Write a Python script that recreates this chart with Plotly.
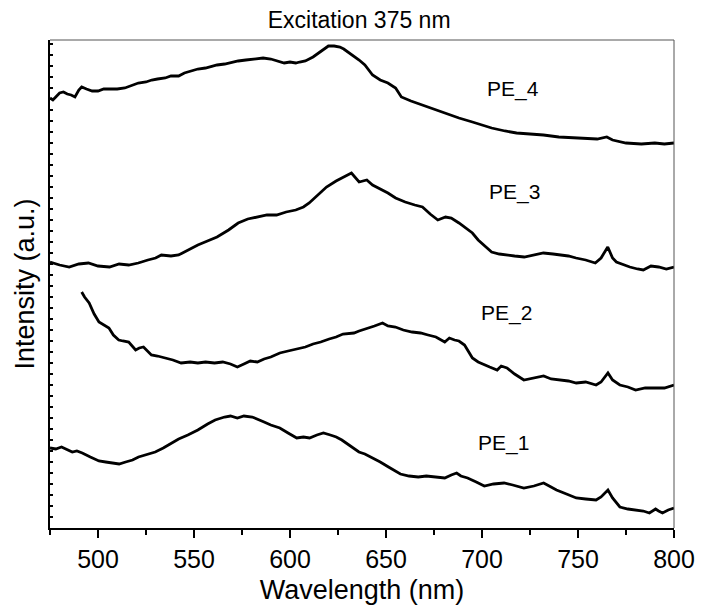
import plotly.graph_objects as go

# ---------------- data (wavelength in nm, intensity in a.u., curves offset) ----------------
pe4_nm = [475, 476.5, 478, 480, 482, 484, 486, 488, 490, 491.5, 494, 497, 500, 503, 506, 510,
          514, 518, 521, 525, 528, 531, 535, 538, 542, 545, 548, 552, 556, 560, 562, 566, 570,
          573, 577, 581, 586, 590, 593, 597, 600, 603, 605, 608, 612, 615, 618, 620, 623, 626,
          628, 631, 634, 636, 639, 643, 647, 651, 655, 658, 663, 669, 674, 681, 688, 695, 700,
          705, 712, 718, 725, 732, 740, 749, 755, 760, 765, 768, 775, 783, 790, 795, 800]
pe4_int = [430, 428, 431, 435, 436, 434, 433, 431, 438, 441, 439, 437, 437, 439, 439, 439,
           440, 443, 445, 446, 448, 449, 450, 452, 452, 455, 457, 459, 460, 462, 463, 464, 466,
           467, 468, 469, 470, 469, 467, 465, 466, 465, 466, 467, 471, 475, 479, 482, 482, 481,
           479, 475, 471, 468, 463, 453, 448, 445, 440, 431, 427, 423, 419, 415, 410, 406, 403,
           400, 397, 395, 394, 393, 391, 390, 390, 389, 391, 388, 385, 384, 385, 384, 385]

pe3_nm = [475, 480, 485, 490, 495, 500, 506, 511, 516, 521, 526, 530, 533, 538, 542, 547,
          552, 557, 562, 568, 573, 578, 583, 588, 593, 598, 603, 607, 610, 614, 619, 624, 628,
          632, 636, 640, 643, 647, 651, 655, 660, 665, 669, 673, 677, 681, 684, 688, 691, 695,
          698, 702, 705, 709, 712, 717, 722, 727, 732, 737, 741, 745, 749, 754, 759, 762,
          765.5, 768, 770, 774, 777, 781, 784, 788, 792, 796, 800]
pe3_int = [266, 263, 261, 264, 265, 262, 261, 264, 263, 265, 268, 270, 273, 272, 273, 278,
           283, 287, 291, 298, 305, 309, 311, 313, 313, 316, 318, 321, 325, 332, 341, 347, 351,
           355, 346, 348, 343, 339, 335, 330, 326, 323, 321, 314, 308, 311, 310, 305, 301, 295,
           288, 281, 276, 274, 273, 272, 271, 273, 275, 274, 273, 272, 270, 268, 265, 270,
           281, 270, 266, 263, 261, 259, 258, 262, 261, 259, 261]

pe2_nm = [491.5, 493, 495.4, 498, 500.5, 503, 505.7, 508, 510.8, 513, 516, 519.6, 521.5,
          523.7, 527.8, 531, 535, 539, 543.3, 548, 552, 556, 560.7, 565, 569, 572.6, 576,
          579.3, 583, 586.5, 590, 594.7, 599, 603.5, 608, 612, 616, 620.4, 624, 627.6, 633.3,
          636, 639.5, 644, 648.2, 651, 654.9, 659, 663.6, 668, 671.9, 676, 680.6, 683, 685.7,
          688, 690.9, 693, 695, 698, 701.2, 704, 707.9, 710, 713, 717, 721.8, 727, 732.1,
          736, 740.8, 745, 749.1, 754, 759.4, 762, 765.6, 768, 771.8, 776, 780, 785, 790.4,
          795, 800]
pe2_int = [236, 231, 225, 214, 206, 203, 200, 193, 188, 187, 186, 178, 180, 181, 173, 172,
           170, 168, 165, 166, 165, 166, 165, 166, 164, 161, 164, 167, 166, 169, 171, 175, 177,
           179, 181, 184, 186, 189, 191, 194, 195, 197, 199, 202, 205, 202, 201, 198, 196, 195,
           193, 191, 186, 190, 188, 187, 183, 177, 170, 166, 163, 161, 158, 162, 160, 154, 148,
           150, 152, 149, 148, 147, 145, 146, 143, 146, 155, 148, 143, 141, 138, 140, 140,
           140, 143]

pe1_nm = [475, 478, 481, 484, 486.6, 489, 491.8, 496, 500.5, 504, 508.3, 511, 514.4, 518,
          521.1, 525, 529.8, 534, 538.1, 542, 546.8, 552, 557.1, 561, 565.9, 569, 572.6, 576,
          580.3, 583, 586.5, 590, 594.7, 599, 603.5, 607, 610.2, 614, 617.4, 621, 624.1, 627,
          630.8, 633, 635.9, 639, 643.1, 647, 651.3, 654, 657.5, 662, 666.8, 671, 675.5, 678,
          680.6, 684, 686.8, 689, 692.5, 697, 701.2, 706, 711.5, 716, 721.8, 727, 732.1, 735,
          738.8, 744, 749.1, 754, 759.4, 762, 765.6, 768, 771.8, 776, 780, 784, 787.2, 790.4,
          792, 794, 797, 800]
pe1_int = [80, 79, 81, 78, 76, 77, 75, 71, 67, 66, 65, 64, 66, 68, 71, 73, 76, 80, 85, 89,
           93, 98, 104, 108, 111, 112, 110, 112, 111, 109, 106, 103, 100, 95, 90, 91, 90, 93,
           95, 93, 91, 88, 83, 80, 76, 74, 70, 66, 61, 58, 54, 52, 51, 52, 51, 50, 50, 53, 55,
           52, 50, 46, 42, 44, 45, 43, 40, 42, 45, 42, 38, 34, 30, 29, 28, 31, 38, 30, 21, 19,
           18, 17, 15, 19, 17, 15, 18, 20]

series = [(pe1_nm, pe1_int, "PE_1"), (pe2_nm, pe2_int, "PE_2"),
          (pe3_nm, pe3_int, "PE_3"), (pe4_nm, pe4_int, "PE_4")]

label_names = ["PE_4", "PE_3", "PE_2", "PE_1"]
label_x = [716, 717, 713, 711]
label_y = [439, 336, 215, 85]

x_ticks = [500, 550, 600, 650, 700, 750, 800]

FONT = "Liberation Sans, Arial, Helvetica, sans-serif"

fig = go.Figure()
for nm, it, name in series:
    fig.add_trace(go.Scatter(x=nm, y=it, mode="lines", name=name,
                             line=dict(color="black", width=2.8), showlegend=False,
                             hoverinfo="x+y+name"))

for name, lx, ly in zip(label_names, label_x, label_y):
    fig.add_annotation(x=lx, y=ly, text=name, showarrow=False,
                       font=dict(family=FONT, size=21, color="black"),
                       xanchor="center", yanchor="middle")

# top and right frame (thin grey)
fig.add_shape(type="line", xref="paper", yref="paper", x0=0, x1=1, y0=1, y1=1,
              line=dict(color="#555555", width=1))
fig.add_shape(type="line", xref="paper", yref="paper", x0=1, x1=1, y0=0, y1=1,
              line=dict(color="#555555", width=1))

fig.update_layout(
    width=707, height=615,
    margin=dict(l=50, r=25, t=40, b=87),
    paper_bgcolor="white", plot_bgcolor="white",
    font=dict(family=FONT, color="black"),
    title=dict(text="Excitation 375 nm", x=0.508, y=1 - 20 / 615,
               xanchor="center", yanchor="middle",
               font=dict(family=FONT, size=23, color="black")),
    xaxis=dict(range=[475, 800], tickmode="array", tickvals=x_ticks,
               ticktext=[str(v) for v in x_ticks],
               ticks="outside", ticklen=8, tickwidth=1.5, tickcolor="black",
               showline=True, linecolor="black", linewidth=2,
               showgrid=False, zeroline=False,
               tickfont=dict(family=FONT, size=25, color="black"),
               minor=dict(tickmode="linear", tick0=475, dtick=25, ticks="outside",
                          ticklen=5, tickwidth=1.5, tickcolor="black", showgrid=False),
               title=dict(text="Wavelength (nm)", standoff=8,
                          font=dict(family=FONT, size=27, color="black"))),
    yaxis=dict(range=[0, 488], tickmode="linear", tick0=0, dtick=11,
               ticks="inside", ticklen=3, tickwidth=1.5, tickcolor="black",
               showticklabels=False,
               showline=True, linecolor="black", linewidth=2,
               showgrid=False, zeroline=False,
               title=dict(text="Intensity (a.u.)", standoff=6,
                          font=dict(family=FONT, size=27, color="black"))),
)

fig.write_html("out.html")
